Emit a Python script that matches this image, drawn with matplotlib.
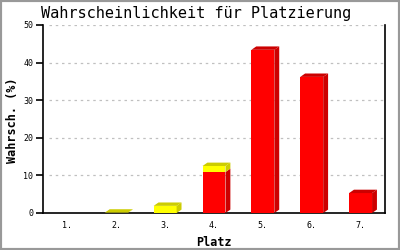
import numpy as np
import matplotlib.pyplot as plt
from matplotlib.patches import Polygon, Rectangle

places = ['1.', '2.', '3.', '4.', '5.', '6.', '7.']
red_vals = [0.0, 0.0, 0.0, 10.9, 43.4, 36.2, 5.3]
yellow_vals = [0.0, 0.1, 1.9, 1.6, 0.0, 0.0, 0.0]
yticks = [0, 10, 20, 30, 40, 50]

mono = 'DejaVu Sans Mono'

fig = plt.figure(figsize=(4, 2.5), dpi=100)
ax = fig.add_axes([0.1075, 0.148, 0.855, 0.752])

x = np.arange(len(places))
w = 0.47
dx = 0.1    # depth of the 3d look, in data units
dy = 0.9

def block(xc, y0, y1, face, dark):
    ax.add_patch(Rectangle((xc - w/2, y0), w, y1 - y0, facecolor=face,
                           edgecolor='none', zorder=3))
    r = xc + w/2
    ax.add_patch(Polygon([(r, y0), (r + dx, y0 + dy), (r + dx, y1 + dy), (r, y1)],
                         closed=True, facecolor=dark, edgecolor='none', zorder=3))

def top(xc, y1, dark):
    l = xc - w/2
    r = xc + w/2
    ax.add_patch(Polygon([(l, y1), (l + dx, y1 + dy), (r + dx, y1 + dy), (r, y1)],
                         closed=True, facecolor=dark, edgecolor='none', zorder=3))

for i in range(len(places)):
    rv = red_vals[i]
    yv = yellow_vals[i]
    if rv > 0:
        block(x[i], 0, rv, '#ff0000', '#cc0000')
    if yv > 0:
        block(x[i], rv, rv + yv, '#ffff00', '#cccc00')
        top(x[i], rv + yv, '#cccc00')
    elif rv > 0:
        top(x[i], rv, '#cc0000')

ax.set_xlim(-0.5, len(places) - 0.5)
ax.set_ylim(0, 50)
ax.set_xticks(x)
ax.set_xticklabels(places, fontfamily=mono, fontsize=6)
ax.set_yticks(yticks)
ax.set_yticklabels([str(v) for v in yticks], fontfamily=mono, fontsize=6)
ax.tick_params(axis='x', length=0, pad=6)
ax.tick_params(axis='y', length=5, width=1.2, pad=2)

for v in yticks[1:]:
    ax.axhline(v, xmin=0.018, color='#c0c0c0', lw=0.9, ls=(0, (2, 3)), zorder=1)

ax.spines['top'].set_visible(False)
for s in ['left', 'right', 'bottom']:
    ax.spines[s].set_linewidth(1.2)

ax.set_xlabel('Platz', fontfamily=mono, fontsize=8.5, fontweight='bold', labelpad=4)
fig.text(0.032, 0.52, 'Wahrsch. (%)', fontfamily=mono, fontsize=8.5,
         fontweight='bold', rotation=90, ha='center', va='center')
fig.text(0.49, 0.945, 'Wahrscheinlichkeit für Platzierung', fontfamily=mono,
         fontsize=11, ha='center', va='center')

fig.patches.append(Rectangle((0, 0), 1, 1, transform=fig.transFigure, fill=False,
                             edgecolor='#999999', lw=3, zorder=10))

fig.savefig('out.png', dpi=100)
